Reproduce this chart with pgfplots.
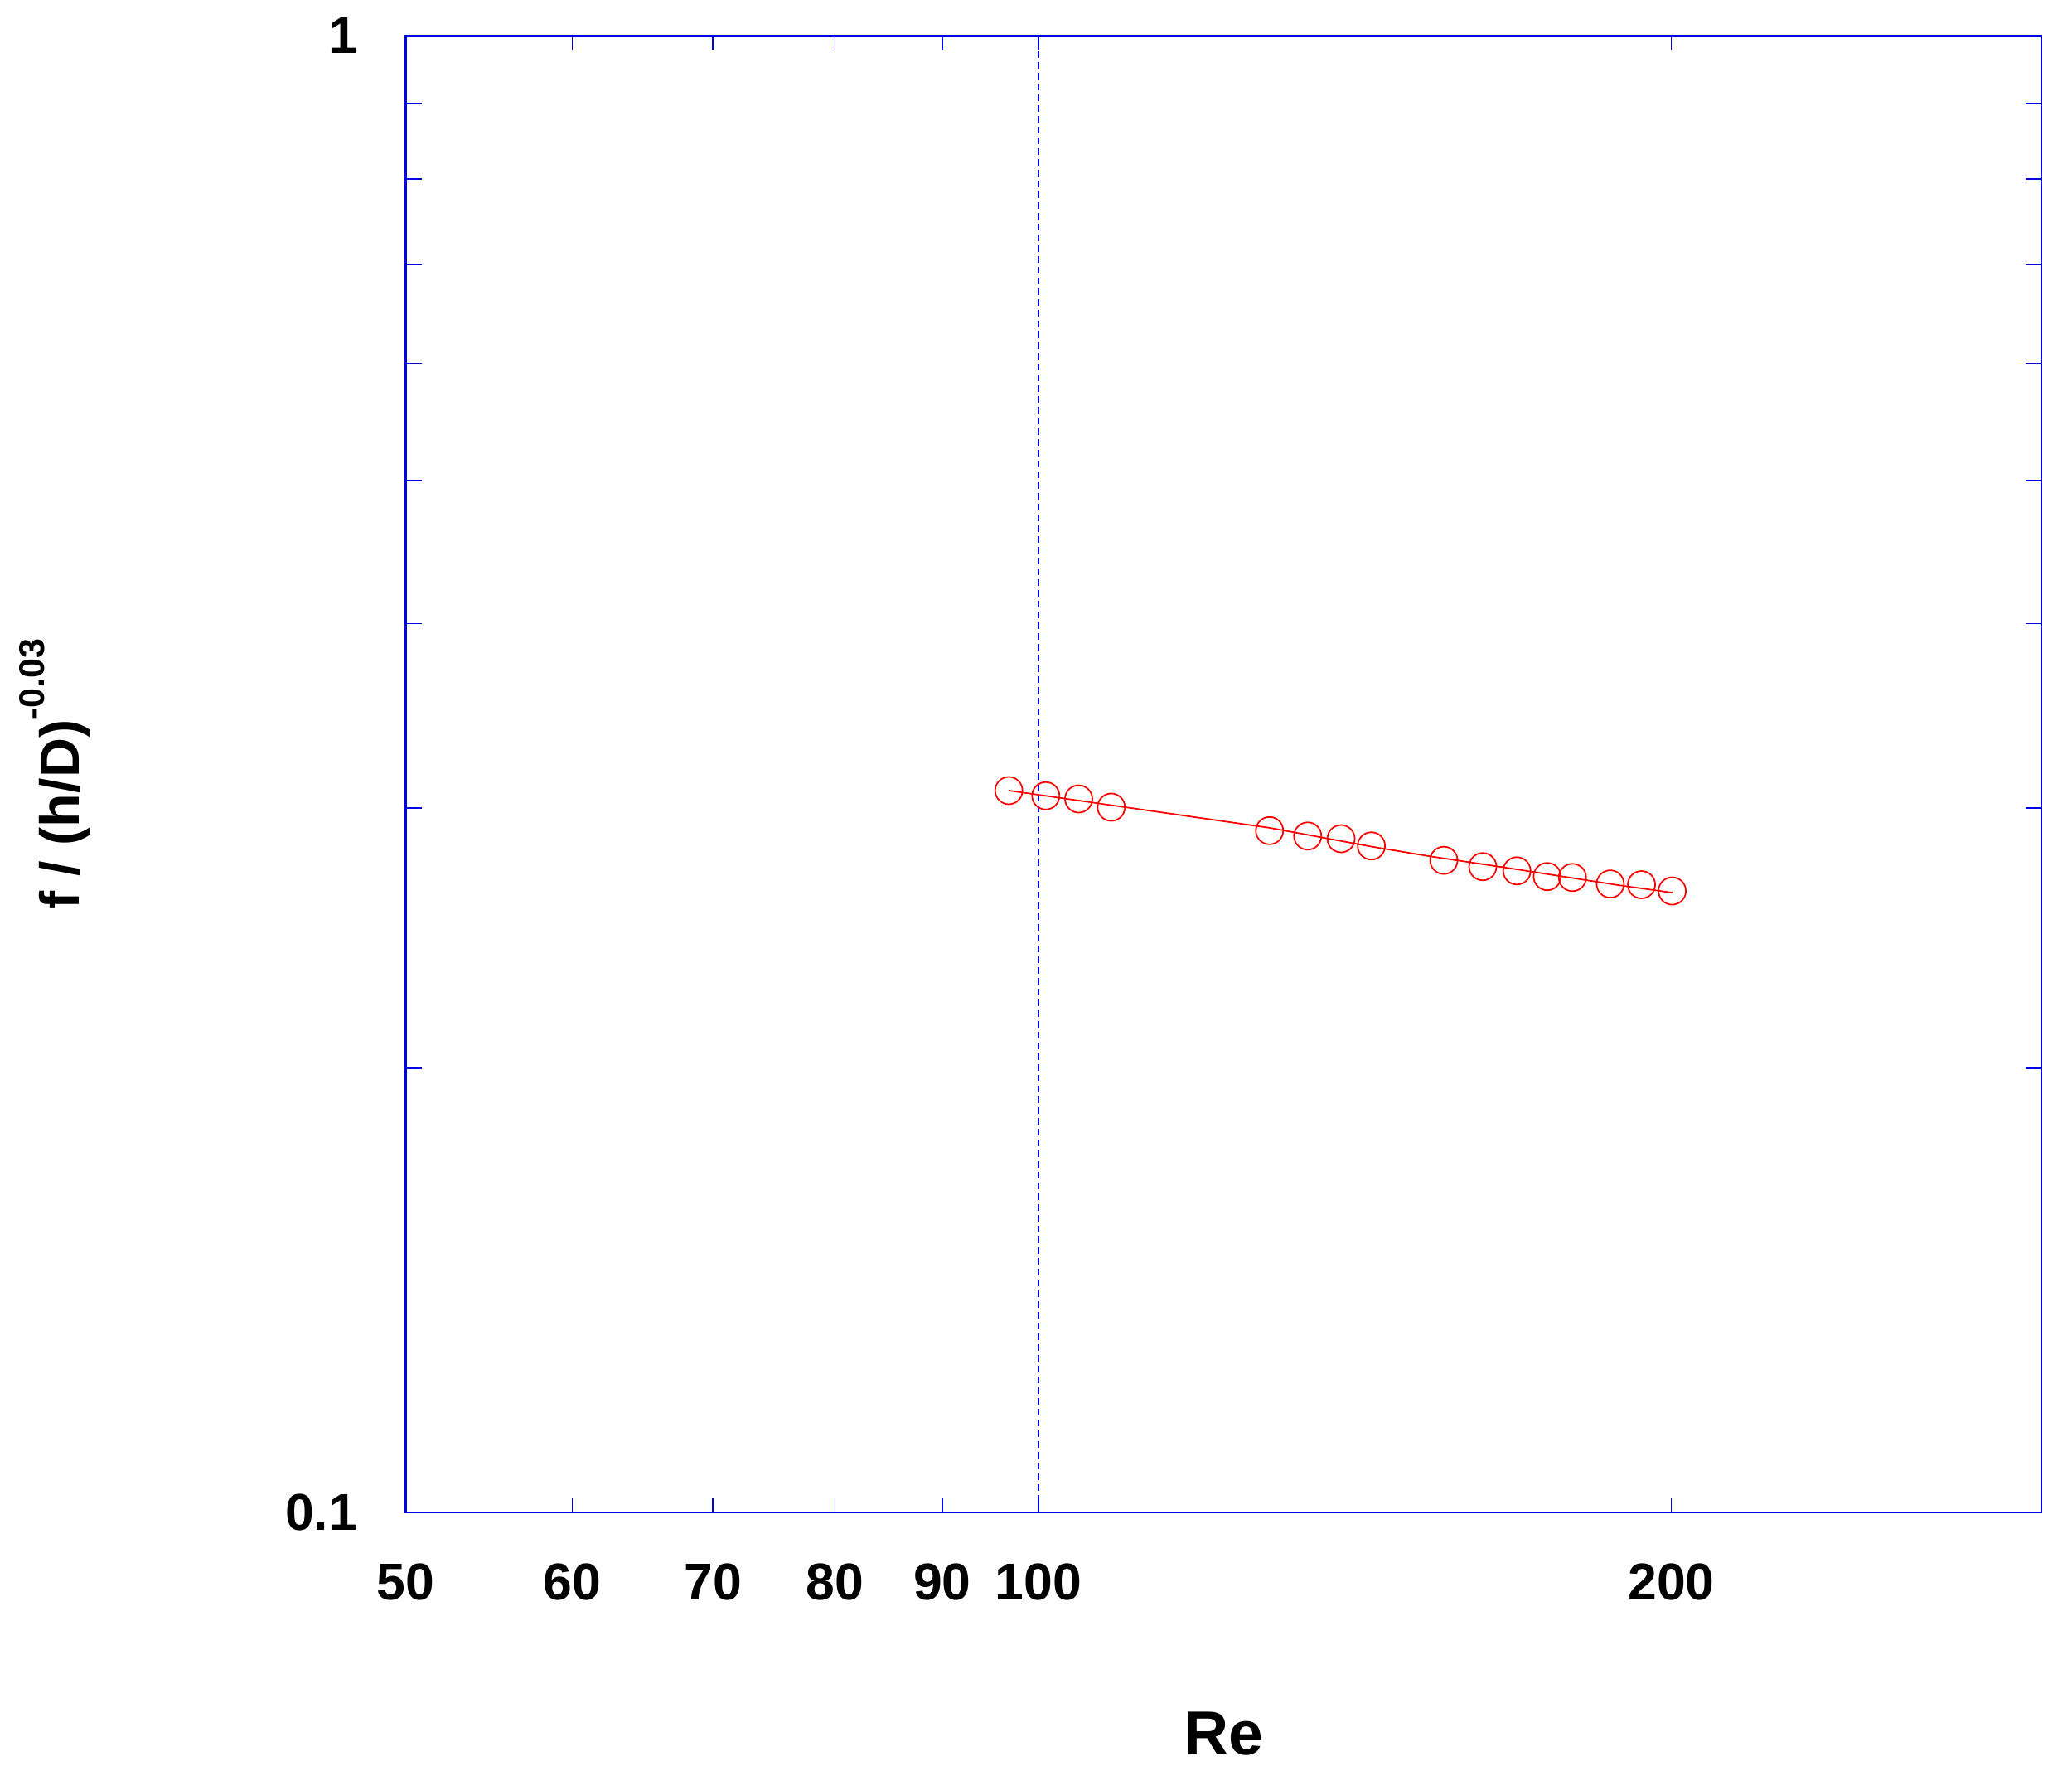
\documentclass[border=0pt]{standalone}
\usepackage{fontspec}
\setmainfont{Liberation Sans}
\usepackage{pgfplots}
\pgfplotsset{compat=1.18}
\definecolor{axblue}{RGB}{0,0,230}
\definecolor{dred}{RGB}{255,0,0}
\begin{document}
\begin{tikzpicture}
\useasboundingbox (-97.9pt,-62.4pt) rectangle (402.1pt,365pt);
\begin{axis}[
  scale only axis,
  width=394.7pt, height=356.3pt,
  xmode=log, ymode=log,
  xmin=50, xmax=300, ymin=0.1, ymax=1,
  axis line style={axblue, line width=0.5pt},
  tick style={axblue, line width=0.3pt},
  tick align=inside,
  major tick length=3.4pt,
  minor tick length=3.8pt,
  xtick={50,60,70,80,90,100,200},
  xticklabels={50,60,70,80,90,100,200},
  minor xtick={},
  ytick={0.1,1},
  yticklabels={0.1,1},
  minor ytick={0.2,0.3,0.4,0.5,0.6,0.7,0.8,0.9},
  xticklabel style={font=\fontsize{12.5}{13}\selectfont\bfseries, anchor=center, yshift=-16.8pt},
  yticklabel style={font=\fontsize{12.5}{13}\selectfont\bfseries, anchor=east, inner sep=0pt, xshift=-11.5pt},
  xlabel={Re},
  xlabel style={font=\fontsize{15}{16}\selectfont\bfseries, at={(axis description cs:0.5,0)}, anchor=center, yshift=-53.4pt},
  ylabel={f / (h/D)\raisebox{8.4pt}{\fontsize{8.6}{9}\selectfont -0.03}},
  ylabel style={font=\fontsize{13.3}{14}\selectfont\bfseries, at={([xshift=-84.6pt]axis description cs:0,0.5)}, anchor=center},
  clip=false,
]
\addplot[axblue, line width=0.33pt, dash pattern=on 1.6pt off 1pt] coordinates {(100,0.1) (100,1)};
\addplot[dred, line width=0.35pt] coordinates {
 (96.8,0.3083) (128.8,0.2909) (144.0,0.2825) (153.2,0.2784) (167.3,0.2732) (188.8,0.2660) (200.3,0.2629)};
\addplot[only marks, mark=o, mark size=3.3pt, dred, mark options={line width=0.35pt}] coordinates {
 (96.8,0.3083) (100.8,0.3058) (104.5,0.3043) (108.3,0.3004)
 (128.8,0.2896) (134.3,0.2872) (139.3,0.2860) (144.0,0.2828)
 (155.9,0.2765) (162.7,0.2738) (168.9,0.2720) (174.6,0.2696)
 (179.5,0.2692) (187.1,0.2665) (193.6,0.2662) (200.2,0.2636)};
\end{axis}
\end{tikzpicture}
\end{document}
